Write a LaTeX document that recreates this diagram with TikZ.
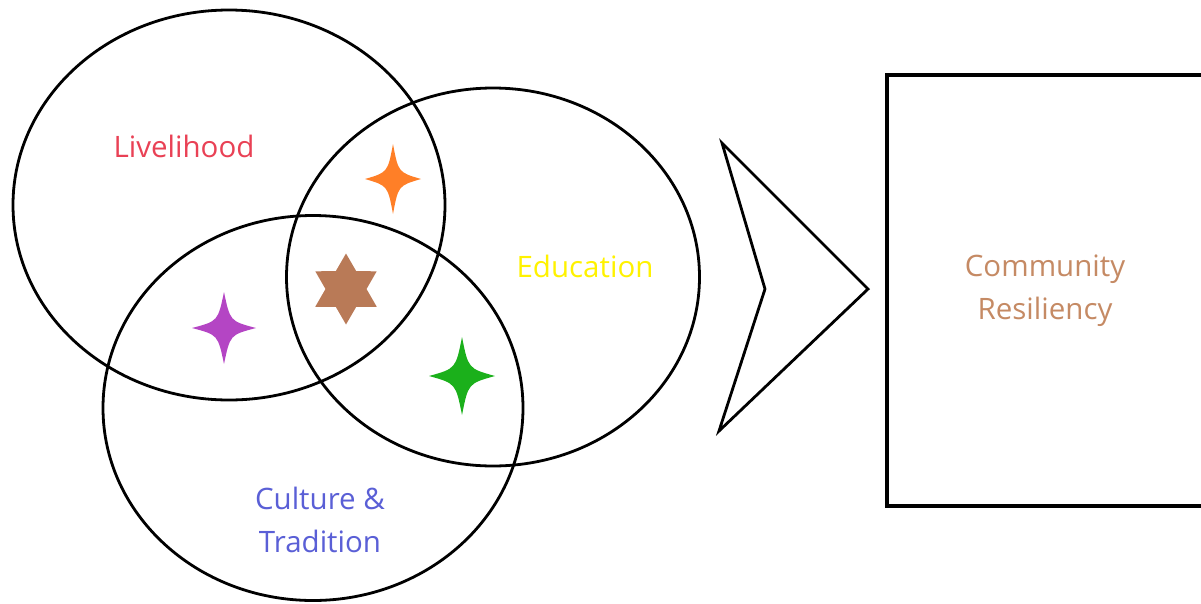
\documentclass[tikz,border=0pt]{standalone}
\usepackage{fontspec}
\setmainfont{Open Sans}
\usetikzlibrary{shapes.geometric}

\tikzstyle{venn-ring}=[ellipse, draw=black, line width=2.8pt, inner sep=0pt]
\tikzstyle{venn-label}=[font=\fontsize{29.5}{43}\selectfont, align=center, inner sep=0pt]
\tikzstyle{hexa-star}=[star, star points=6, star point ratio=1.73, inner sep=0pt, minimum size=71pt]
\definecolor{livelihood-red}{HTML}{E94155}
\definecolor{education-yellow}{HTML}{FFF200}
\definecolor{culture-blue}{HTML}{5A5FD6}
\definecolor{resiliency-brown}{HTML}{C58A64}
\definecolor{star-orange}{HTML}{FF7F27}
\definecolor{star-brown}{HTML}{B97A57}
\definecolor{star-purple}{HTML}{B445C4}
\definecolor{star-green}{HTML}{1BB01B}

% four-pointed star: x, y, half width, half height, colour
\newcommand{\sparkle}[5]{%
  \begin{scope}[shift={(#1,#2)}]
    \fill[#5] (0,-#4) .. controls (0.19*#3,-0.19*#4) .. (#3,0)
              .. controls (0.19*#3,0.19*#4) .. (0,#4)
              .. controls (-0.19*#3,0.19*#4) .. (-#3,0)
              .. controls (-0.19*#3,-0.19*#4) .. (0,-#4) -- cycle;
  \end{scope}}

\begin{document}
\begin{tikzpicture}[x=1pt, y=-1pt]
      \useasboundingbox (0,0) rectangle (1201,603);

      % the three rings
      \node (livelihood) at (229, 205)
            [venn-ring, minimum width=432pt, minimum height=390pt] {};
      \node (education) at (493, 277)
            [venn-ring, minimum width=413pt, minimum height=378pt] {};
      \node (culture) at (313, 408)
            [venn-ring, minimum width=420pt, minimum height=385pt] {};

      \node (livelihood-text) at (184, 146)
            [venn-label, text={livelihood-red}] {Livelihood};
      \node (education-text) at (585, 266)
            [venn-label, text={education-yellow}] {Education};
      \node (culture-text) at (320, 520)
            [venn-label, text={culture-blue}] {Culture \&\\Tradition};

      % stars in the overlaps
      \sparkle{393}{179}{28}{35}{star-orange}
      \sparkle{224}{328}{32}{36}{star-purple}
      \sparkle{462}{376}{33}{39}{star-green}
      \node (centre-star) at (346, 289) [hexa-star, fill={star-brown}] {};

      % chevron
      \draw[line width=2.8pt, line join=miter, miter limit=20]
            (722, 143) -- (868, 289) -- (719, 431) -- (765, 289) -- cycle;

      \node (resiliency) at (1045, 290.5)
            [draw=black, line width=3.4pt, minimum width=316pt, minimum height=431pt,
             venn-label, text={resiliency-brown}] {Community\\Resiliency};
    \end{tikzpicture}
\end{document}
